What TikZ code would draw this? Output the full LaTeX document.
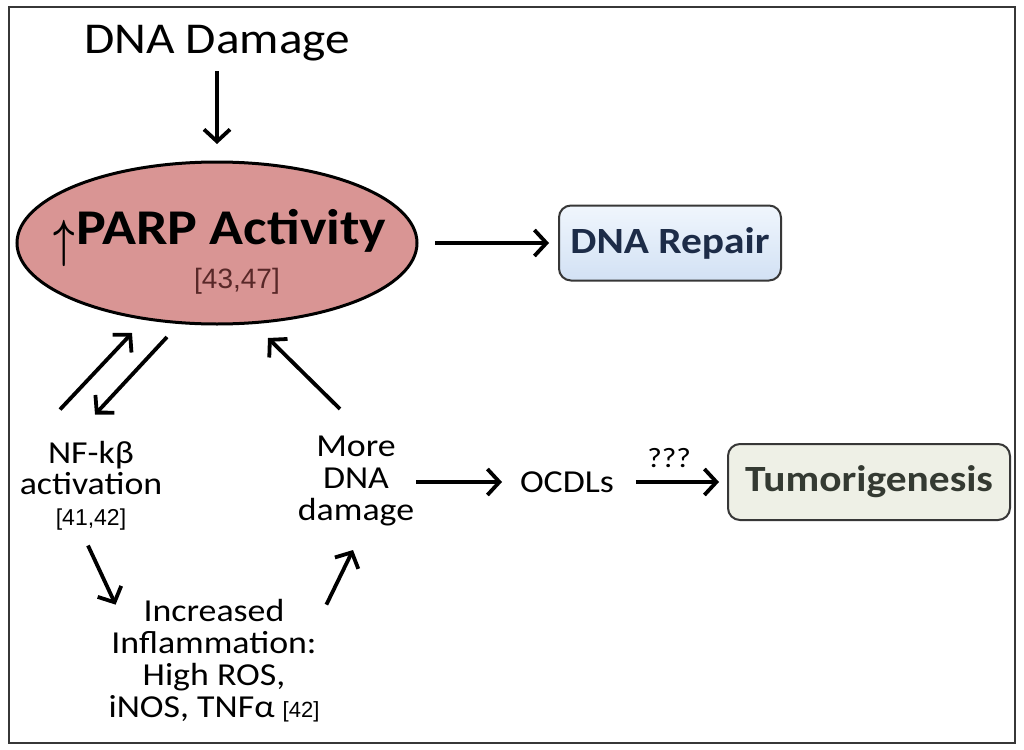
\documentclass[tikz,border=0pt]{standalone}
\usepackage{graphicx}
\usepackage{fontspec}
\setmainfont[FakeStretch=1.12]{Carlito}
\newfontfamily\citefont{Liberation Sans}
\usetikzlibrary{arrows.meta,shapes.geometric}
\definecolor{parpred}{RGB}{217,149,148}
\definecolor{citered}{RGB}{88,40,40}
\definecolor{repairtop}{RGB}{240,246,253}
\definecolor{repairbot}{RGB}{210,225,244}
\definecolor{repairtxt}{RGB}{29,44,72}
\definecolor{tumorfill}{RGB}{238,240,230}
\definecolor{tumortxt}{RGB}{52,58,50}
\definecolor{edgegray}{RGB}{55,55,55}
\newcommand{\uparr}{\raisebox{-13pt}{\scalebox{1.5}[2.1]{\boldmath$\uparrow$}}\hspace{1pt}}
\tikzset{
  flow/.style={line width=3.8pt,-{Straight Barb[length=12pt,width=26pt]}},
  plain/.style={inner sep=0pt,outer sep=0pt,align=center,font=\fontsize{32}{32}\selectfont},
  cite/.style={inner sep=0pt,outer sep=0pt,font=\citefont\fontsize{#1}{#1}\selectfont},
  outcome/.style={draw=edgegray,line width=2pt,rounded corners=12pt,inner sep=0pt,
    font=\fontsize{37}{38}\selectfont\bfseries}
}
\begin{document}
\begin{tikzpicture}[x=1pt,y=-1pt]
\useasboundingbox (0,0) rectangle (1024,749);
\fill[white] (0,0) rectangle (1024,749);
\draw[edgegray,line width=2pt] (9,7) rectangle (1015,743);

% PARP and its outcomes
\node[plain,font=\fontsize{44}{44}\selectfont] (dmg) at (217,43) {DNA Damage};
\node[draw,ellipse,fill=parpred,line width=3pt,inner sep=0pt,outer sep=0pt,
  minimum width=400pt,minimum height=162pt] (parp) at (217,243) {};
\node[plain,font=\fontsize{50}{50}\selectfont\bfseries] (parpname) at (220,238) {\uparr PARP Activity};
\node[cite=28,text=citered] (parpcite) at (237,281) {[43,47]};
\node[outcome,top color=repairtop,bottom color=repairbot,text=repairtxt,
  minimum width=222pt,minimum height=75pt] (repair) at (670,243) {DNA Repair};

% the inflammation loop
\node[plain,font=\fontsize{32}{31}\selectfont] (nf) at (91,486)
  {NF-kβ\\activation\\{\citefont\fontsize{23}{23}\selectfont[41,42]}};
\node[plain] (infl) at (214,661)
  {Increased\\Inflammation:\\High ROS,\\iNOS, TNFα\ {\citefont\fontsize{22}{22}\selectfont[42]}};
\node[plain] (more) at (356,481) {More\\DNA\\damage};
\node[plain] (ocdl) at (567,482) {OCDLs};
\node[outcome,fill=tumorfill,text=tumortxt,
  minimum width=282pt,minimum height=76pt] (tumor) at (869,482) {Tumorigenesis};

\draw[flow] ([shift={(0,10)}]dmg.south) -- ([shift={(0,-18)}]parp.north);
\draw[flow] ([shift={(18,0)}]parp.east) -- ([shift={(-9,0)}]repair.west);
\draw[flow] ([shift={(-31,-32)}]nf.north) -- ([shift={(-85,9)}]parp.south);
\draw[flow] ([shift={(-50,13)}]parp.south) -- ([shift={(4,-27)}]nf.north);
\draw[flow] ([shift={(-16,-27)}]more.north) -- ([shift={(51,14)}]parp.south);
\draw[flow] ([shift={(-3,15)}]nf.south) -- ([shift={(7,5)}]infl.north west);
\draw[flow] ([shift={(7,5)}]infl.north east) -- ([shift={(-3,24)}]more.south);
\draw[flow] ([shift={(2,1)}]more.east) -- ([shift={(-18,0)}]ocdl.west);
\draw[flow] ([shift={(22,0)}]ocdl.east) -- node[plain,pos=0.4,above=14pt,font=\fontsize{28}{28}\selectfont] (unknown) {???} ([shift={(-8,0)}]tumor.west);
\end{tikzpicture}
\end{document}
